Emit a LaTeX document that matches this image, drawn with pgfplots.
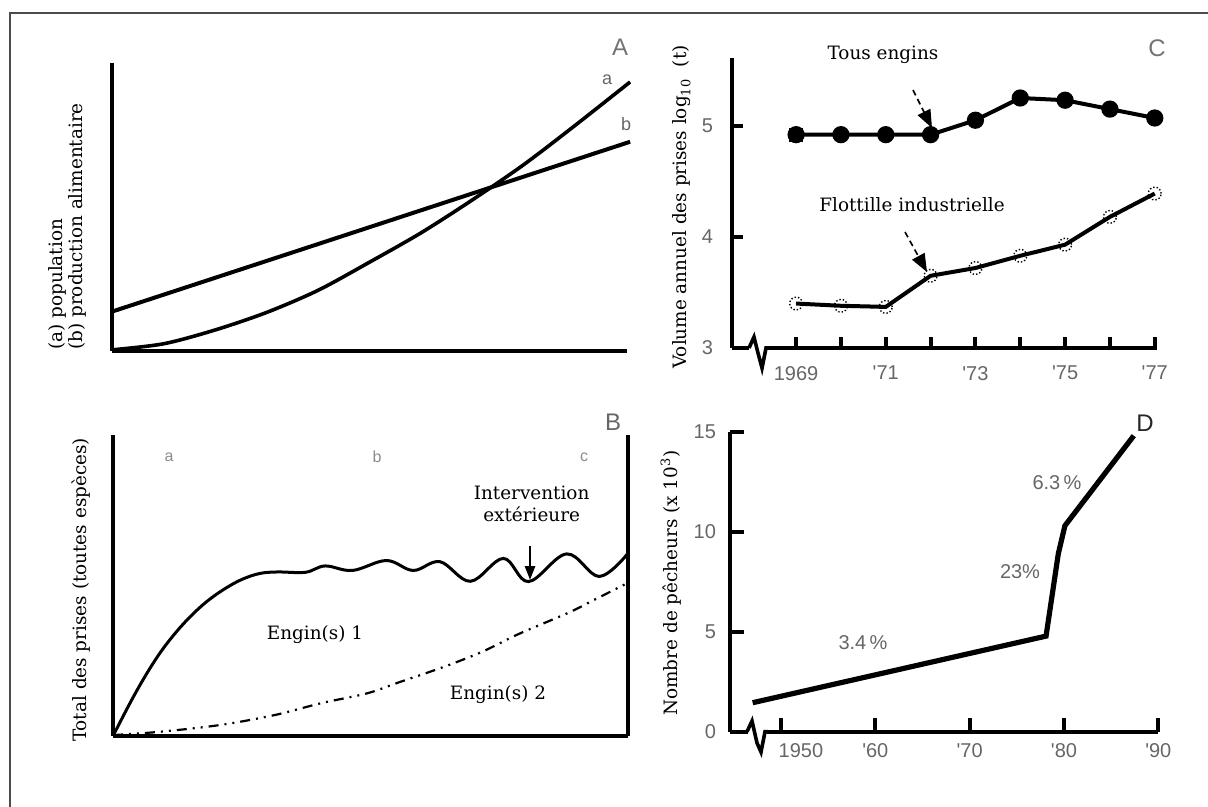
\documentclass[border=0pt]{standalone}
\usepackage{fontspec}
\setmainfont{DejaVu Serif}
\newfontfamily\lsans{Liberation Sans}
\usepackage{pgfplots}
\pgfplotsset{compat=1.18}
\usetikzlibrary{arrows.meta}
\definecolor{tlgray}{HTML}{666666}
\newcommand{\lbl}{\fontsize{9.2}{11}\selectfont}
\newcommand{\tkf}{\lsans\fontsize{10}{11}\selectfont}
\pgfplotsset{
  myax/.style={scale only axis, anchor=south west, axis lines=left,
    axis line style={-, line width=2pt}, clip=false},
}
\begin{document}
\begin{tikzpicture}
\begin{scope}[x=0.5pt,y=-0.5pt]
\path[use as bounding box] (0,0) rectangle (1208,807);
\draw[line width=1.1pt, black!70] (10,807) -- (10,13) -- (1208,13);
\end{scope}

% ---------- A ----------
\begin{axis}[myax, at={(56pt,-175.35pt)}, width=257.5pt, height=143.7pt,
  xmin=0, xmax=100, ymin=0, ymax=100, ticks=none]
\addplot[line width=1.8pt, smooth] coordinates {
 (0,0.3) (10,2.4) (20,7.2) (30,13.3) (40,21.0) (50,30.8) (60,41.0)
 (70,52.5) (80,64.8) (90,78.5) (100.6,93.5)};
\addplot[line width=2pt] coordinates {(0,13.6) (100.6,72.7)};
\end{axis}

% ---------- B ----------
\begin{axis}[myax, at={(56.5pt,-368pt)}, width=257.5pt, height=150.5pt,
  xmin=0, xmax=100, ymin=0, ymax=100, ticks=none,
  x axis line style={line width=1.6pt}]
\draw[line width=1.6pt] (axis cs:100,0) -- (axis cs:100,100);
\addplot[line width=1.5pt, smooth, tension=0.6] coordinates {
 (0,0) (2.4,8.0) (4.6,15.0) (7.0,22.0) (9.5,28.5) (12.3,34.6) (15.2,40.0)
 (18.3,44.8) (21.6,48.8) (25.0,52.0) (28.5,54.0) (32.0,54.5)
 (37.4,54.4) (41.2,56.5) (46.5,55.0) (53.1,58.3) (58.3,55.0) (63.5,57.9)
 (69.4,51.4) (75.8,59.0) (80.7,51.3) (88.1,60.5) (94.4,53.0) (99.9,60.5)};
\addplot[line width=1.1pt, smooth, dash pattern=on 5pt off 3pt on 1pt off 3pt on 1pt off 3pt]
 coordinates {
 (0,0.3) (9.1,1.4) (21.0,3.7) (31.5,7.0) (40.4,10.9) (49.4,14.2) (55.3,17.7)
 (64.3,23.0) (71.7,28.0) (78.4,33.6) (84.4,38.0) (88.9,41.3) (93.4,45.2) (100,50.9)};
\end{axis}

% ---------- C ----------
\begin{axis}[myax, at={(366pt,-174pt)}, width=212.5pt, height=145pt,
  xmin=1967.57, xmax=1977.05, ymin=3, ymax=5.61,
  axis line style={line width=2.2pt},
  xtick={1969,1970,1971,1972,1973,1974,1975,1976,1977},
  xticklabels={1969,,'71,,'73,,'75,,'77},
  ytick={3,4,5}, yticklabels={3,4,5},
  tick align=inside, major tick length=5.5pt,
  tick style={line width=2pt, black},
  ticklabel style={font=\tkf, text=tlgray},
  yticklabel style={xshift=-6pt}, xticklabel style={yshift=-5.5pt}]
\addplot[line width=2pt, mark=o, mark size=3.2pt,
  mark options={fill=white, line width=0.7pt, densely dotted}] coordinates {
 (1969,3.40) (1970,3.38) (1971,3.37) (1972,3.65) (1973,3.72) (1974,3.83)
 (1975,3.93) (1976,4.18) (1977,4.39)};
\addplot[line width=2pt, mark=*, mark size=3.3pt] coordinates {
 (1969,4.92) (1970,4.92) (1971,4.92) (1972,4.92) (1973,5.05) (1974,5.25)
 (1975,5.23) (1976,5.15) (1977,5.07)};
\addplot[only marks, mark=square*, mark size=3.2pt] coordinates {(1969,4.92)};
\end{axis}

% ---------- D ----------
\begin{axis}[myax, at={(365pt,-365.85pt)}, width=214.15pt, height=150pt,
  xmin=1944.6, xmax=1990, ymin=0, ymax=15,
  axis line style={line width=2.2pt},
  xtick={1950,1960,1970,1980,1990},
  xticklabels={\hspace{20pt}1950,'60,'70,'80,'90},
  ytick={0,5,10,15}, yticklabels={0,5,10,15},
  tick align=inside, major tick length=7pt,
  tick style={line width=2pt, black},
  ticklabel style={font=\tkf, text=tlgray},
  yticklabel style={xshift=-3.5pt}, xticklabel style={yshift=-2.5pt}]
\addplot[line width=2.6pt] coordinates {
 (1947,1.45) (1978.1,4.78) (1979.4,8.9) (1980.1,10.3) (1987.4,14.8)};
\end{axis}

\begin{scope}[x=0.5pt,y=-0.5pt]
% axis breaks
\draw[white, line width=4pt] (749,348) -- (768,348);
\draw[line width=1.8pt] (749,348) -- (754,337) -- (758,353) -- (762,368) -- (766,348) -- (769,348);
\draw[white, line width=4pt] (748,731.7) -- (767,731.7);
\draw[line width=1.8pt] (747,731.7) -- (752,721) -- (757,743) -- (761,752) -- (765,731.7) -- (768,731.7);
% panel letters
\node[font=\lsans\fontsize{12}{12}\selectfont, text=black!55] at (620,47) {A};
\node[font=\lsans\fontsize{12}{12}\selectfont, text=black!60] at (613,422) {B};
\node[font=\lsans\fontsize{12}{12}\selectfont, text=black!55] at (1157,48) {C};
\node[font=\lsans\fontsize{12}{12}\selectfont, text=black!85] at (1145,423) {D};
\node[font=\lsans\fontsize{9}{9}\selectfont, text=black!60] at (607,80) {a};
\node[font=\lsans\fontsize{9}{9}\selectfont, text=black!60] at (626,124) {b};
\node[font=\lsans\fontsize{8}{8}\selectfont, text=black!45] at (169,457) {a};
\node[font=\lsans\fontsize{8}{8}\selectfont, text=black!45] at (377,457) {b};
\node[font=\lsans\fontsize{8}{8}\selectfont, text=black!45] at (584,457) {c};
% axis titles
\node[rotate=90, anchor=west, align=left, font=\fontsize{9.2}{9.8}\selectfont, inner sep=0pt] at (67.5,350) {(a) population\\(b) production alimentaire};
\node[rotate=90, font=\lbl] at (81,590) {Total des prises (toutes espèces)};
\node[rotate=90, font=\lbl] at (682,207) {Volume annuel des prises log\textsubscript{10}\ \ (t)};
\node[rotate=90, font=\lbl] at (671,583) {Nombre de pêcheurs (x 10\textsuperscript{3})};
% annotations
\node[font=\lbl] at (883,55) {Tous engins};
\node[font=\lbl] at (912,205) {Flottille industrielle};
\node[font=\lbl, align=center] at (531.6,504) {Intervention\\extérieure};
\node[font=\lbl] at (315,635) {Engin(s) 1};
\node[font=\lbl] at (498,695) {Engin(s) 2};
\draw[line width=0.8pt, densely dashed, -{Triangle[length=9pt,width=7pt]}] (913,90) -- (932,128);
\draw[line width=0.8pt, densely dashed, -{Triangle[length=9pt,width=7pt]}] (905,232) -- (927,272);
\draw[line width=1.4pt, -{Triangle[length=7pt,width=5pt]}] (530,546) -- (530,580);
\node[font=\lsans\fontsize{10}{10}\selectfont, text=tlgray] at (863,643) {3.4\,\%};
\node[font=\lsans\fontsize{10}{10}\selectfont, text=tlgray] at (1020,572) {23\%};
\node[font=\lsans\fontsize{10}{10}\selectfont, text=tlgray] at (1057,483) {6.3\,\%};
\end{scope}
\end{tikzpicture}
\end{document}
